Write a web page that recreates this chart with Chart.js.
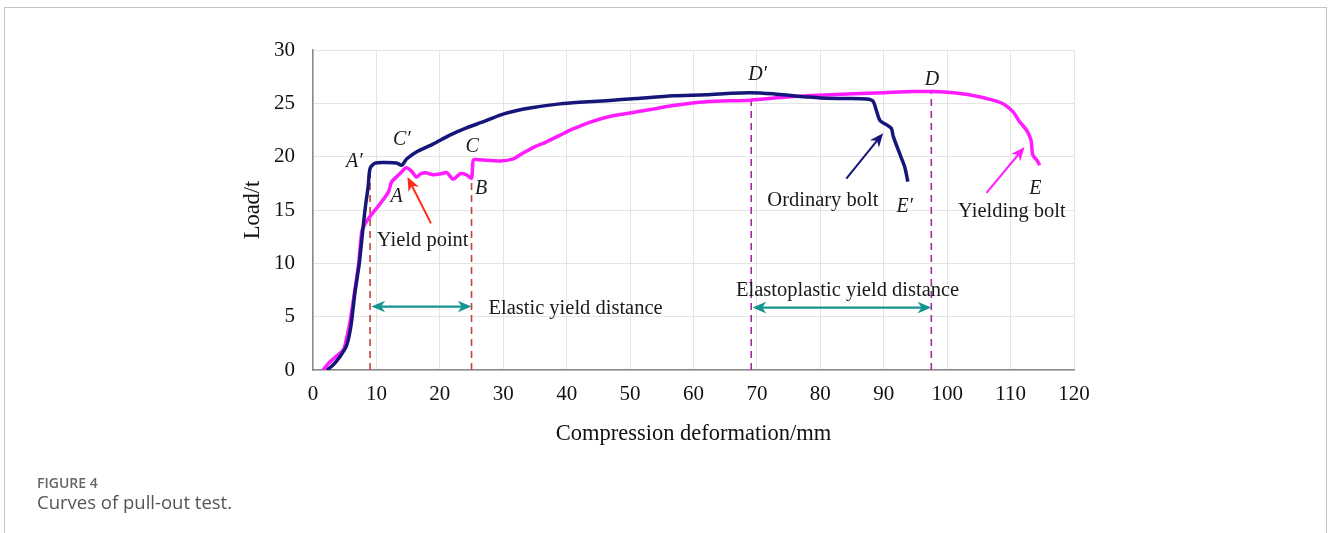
<!DOCTYPE html>
<html>
<head>
<meta charset="utf-8">
<script src="https://cdn.jsdelivr.net/npm/chart.js@4.4.1/dist/chart.umd.min.js"></script>
<style>
  html, body { margin: 0; padding: 0; background: #fff; }
  body { width: 1328px; height: 533px; position: relative; overflow: hidden; }
  #frame { position: absolute; left: 4px; top: 7px; width: 1321px; height: 560px;
           border: 1px solid #c4c4c4; border-bottom: none; }
  #chart { position: absolute; left: 0; top: 0; }
  .cap1 { position: absolute; left: 37px; top: 473px; font-family: "Open Sans", sans-serif;
          font-size: 14px; font-weight: 600; color: #666; }
  .cap2 { position: absolute; left: 37px; top: 489px; font-family: "Open Sans", sans-serif;
          font-size: 18.5px; color: #555; }
</style>
</head>
<body>
<div id="frame"></div>
<canvas id="chart" width="1328" height="533"></canvas>
<div class="cap1">FIGURE 4</div>
<div class="cap2">Curves of pull-out test.</div>
<script>
  // curva do parafuso comum (ordinary bolt)
  const ordinaryX = [2.2, 3.2, 4.3, 5.3, 6.0, 6.6, 7.3, 7.9, 8.3, 8.7, 9.0, 9.8, 11.5, 13.2, 14.0, 14.8, 16.5, 19.0, 21.5, 24.2, 27.0, 29.5, 32.0, 34.7, 38.9, 42.0, 46.3, 51.0, 56.8, 62.0, 66.0, 68.9, 72.5, 75.0, 77.8, 80.0, 84.0, 87.3, 88.3, 88.8, 89.4, 90.4, 91.2, 91.5, 92.5, 93.3, 93.8];
  const ordinaryY = [0, 0.5, 1.3, 2.3, 4.2, 7.2, 10.0, 13.4, 15.5, 17.2, 18.9, 19.4, 19.45, 19.4, 19.2, 19.8, 20.5, 21.2, 22.0, 22.7, 23.3, 23.9, 24.3, 24.6, 24.95, 25.1, 25.25, 25.45, 25.7, 25.8, 25.95, 26.0, 25.9, 25.75, 25.6, 25.5, 25.45, 25.4, 25.2, 24.4, 23.4, 23.0, 22.65, 21.9, 20.3, 19.05, 17.65];

  // curva do parafuso com cedência (yielding bolt)
  const yieldingX = [1.6, 2.4, 3.5, 4.8, 5.3, 5.8, 6.6, 7.2, 7.7, 8.3, 9.0, 10.6, 11.9, 12.4, 13.7, 14.7, 15.6, 16.3, 17.0, 17.7, 19.0, 20.2, 21.1, 22.1, 23.2, 24.2, 25.0, 25.3, 26.3, 29.5, 31.6, 33.0, 34.7, 36.5, 38.9, 41.0, 43.5, 46.3, 49.0, 51.5, 54.0, 56.8, 62.0, 68.9, 74.7, 77.8, 85.2, 90.0, 94.6, 97.8, 101.0, 103.5, 107.2, 109.0, 110.4, 111.4, 112.5, 113.2, 113.5, 114.1, 114.6];
  const yieldingY = [0, 0.6, 1.2, 1.9, 3.0, 4.4, 7.5, 10.0, 13.0, 13.8, 14.4, 15.6, 16.7, 17.65, 18.4, 18.96, 18.6, 18.1, 18.4, 18.5, 18.3, 18.4, 18.5, 17.9, 18.4, 18.3, 18.0, 19.7, 19.7, 19.6, 19.8, 20.3, 20.85, 21.3, 22.0, 22.6, 23.2, 23.7, 24.0, 24.25, 24.5, 24.8, 25.15, 25.3, 25.6, 25.7, 25.9, 26.0, 26.1, 26.1, 26.0, 25.8, 25.3, 24.9, 24.2, 23.3, 22.5, 21.6, 20.15, 19.7, 19.2];

  // linhas verticais tracejadas: [x, yTopo]
  const redGuides = [[9.0, 18.9], [25.0, 18.0]];
  const purpleGuides = [[69.1, 26.0], [97.5, 26.1]];

  // setas: [x1, y1, x2, y2]
  const distanceArrows = [[9.2, 5.95, 25.0, 5.95], [69.3, 5.85, 97.5, 5.85]];
  const yieldArrow = [18.6, 13.75, 14.9, 18.1];
  const ordinaryArrow = [84.1, 17.95, 89.9, 22.2];
  const yieldingArrow = [106.2, 16.6, 112.2, 20.9];

  // rótulos das letras (itálico) e textos
  const pointLabels = ['A\u2032', 'C\u2032', 'A', 'C', 'B', 'D\u2032', 'D', 'E\u2032', 'E'];
  const pointLabelX = [6.5, 14.0, 13.2, 25.1, 26.5, 70.1, 97.6, 93.3, 113.9];
  const pointLabelY = [19.5, 21.55, 16.2, 20.9, 17.0, 27.65, 27.2, 15.3, 17.0];
  const textLabels = ['Yield point', 'Ordinary bolt', 'Yielding bolt', 'Elastic yield distance', 'Elastoplastic yield distance'];
  const textLabelX = [17.3, 80.4, 110.2, 41.4, 84.3];
  const textLabelY = [12.1, 15.85, 14.85, 5.8, 7.45];

  const xTicks = [0, 10, 20, 30, 40, 50, 60, 70, 80, 90, 100, 110, 120];
  const yTicks = [0, 5, 10, 15, 20, 25, 30];

  const NAVY = '#16167a';
  const MAGENTA = '#ff1cff';
  const TEAL = '#15958f';
  const SERIF = '"Liberation Serif", "Times New Roman", serif';

  function toPoints(xs, ys) {
    return xs.map((x, i) => ({ x: x, y: ys[i] }));
  }

  function guideDataset(g, color) {
    return {
      data: [{ x: g[0], y: 0 }, { x: g[0], y: g[1] }],
      borderColor: color, borderWidth: 1.6, borderDash: [7, 5],
      pointRadius: 0, showLine: true, order: 5
    };
  }

  // desenha uma seta usando as escalas do gráfico
  function drawArrow(chart, a, color, both, width, head) {
    const ctx = chart.ctx;
    const xs = chart.scales.x, ys = chart.scales.y;
    const x1 = xs.getPixelForValue(a[0]), y1 = ys.getPixelForValue(a[1]);
    const x2 = xs.getPixelForValue(a[2]), y2 = ys.getPixelForValue(a[3]);
    const ang = Math.atan2(y2 - y1, x2 - x1);
    ctx.save();
    ctx.strokeStyle = color;
    ctx.fillStyle = color;
    ctx.lineWidth = width;
    ctx.beginPath();
    ctx.moveTo(x1 + (both ? Math.cos(ang) * head * 0.6 : 0), y1 + (both ? Math.sin(ang) * head * 0.6 : 0));
    ctx.lineTo(x2 - Math.cos(ang) * head * 0.6, y2 - Math.sin(ang) * head * 0.6);
    ctx.stroke();
    const tip = (tx, ty, an) => {
      ctx.beginPath();
      ctx.moveTo(tx, ty);
      ctx.lineTo(tx - head * Math.cos(an - 0.4), ty - head * Math.sin(an - 0.4));
      ctx.lineTo(tx - head * 0.65 * Math.cos(an), ty - head * 0.65 * Math.sin(an));
      ctx.lineTo(tx - head * Math.cos(an + 0.4), ty - head * Math.sin(an + 0.4));
      ctx.closePath();
      ctx.fill();
    };
    tip(x2, y2, ang);
    if (both) tip(x1, y1, ang + Math.PI);
    ctx.restore();
  }

  const annotations = {
    id: 'annotations',
    afterDatasetsDraw(chart) {
      const ctx = chart.ctx;
      const xs = chart.scales.x, ys = chart.scales.y;
      distanceArrows.forEach(a => drawArrow(chart, a, TEAL, true, 2.2, 15));
      drawArrow(chart, yieldArrow, '#ff2a1a', false, 2, 15);
      drawArrow(chart, ordinaryArrow, NAVY, false, 2, 15);
      drawArrow(chart, yieldingArrow, MAGENTA, false, 2, 15);

      ctx.save();
      ctx.textAlign = 'center';
      ctx.textBaseline = 'middle';
      ctx.fillStyle = '#1a1a1a';
      ctx.font = 'italic 20px ' + SERIF;
      pointLabels.forEach((t, i) => {
        ctx.fillText(t, xs.getPixelForValue(pointLabelX[i]), ys.getPixelForValue(pointLabelY[i]));
      });
      ctx.font = '20.5px ' + SERIF;
      textLabels.forEach((t, i) => {
        ctx.fillText(t, xs.getPixelForValue(textLabelX[i]), ys.getPixelForValue(textLabelY[i]));
      });
      ctx.restore();
    }
  };

  const datasets = [
    {
      label: 'Ordinary bolt',
      data: toPoints(ordinaryX, ordinaryY),
      borderColor: NAVY, borderWidth: 3.5, pointRadius: 0,
      showLine: true, tension: 0.25, order: 1
    },
    {
      label: 'Yielding bolt',
      data: toPoints(yieldingX, yieldingY),
      borderColor: MAGENTA, borderWidth: 3.5, pointRadius: 0,
      showLine: true, tension: 0.25, order: 2
    }
  ];
  redGuides.forEach(g => datasets.push(guideDataset(g, '#c8403a')));
  purpleGuides.forEach(g => datasets.push(guideDataset(g, '#a0309c')));

  const config = {
    type: 'scatter',
    data: { datasets: datasets },
    options: {
      responsive: false,
      animation: false,
      layout: { padding: { left: 240, right: 254, top: 50, bottom: 85 } },
      plugins: { legend: { display: false }, tooltip: { enabled: false } },
      scales: {
        x: {
          type: 'linear', min: 0, max: 120,
          afterFit: (s) => { s.height = 78; },
          afterBuildTicks: (s) => { s.ticks = xTicks.map(v => ({ value: v })); },
          grid: { color: '#e4e4e4', drawTicks: false },
          border: { color: '#8a8a8a', width: 1.5 },
          ticks: { padding: 12, color: '#111', font: { family: SERIF, size: 21 } },
          title: { display: true, text: 'Compression deformation/mm', color: '#111',
                   padding: 0, font: { family: SERIF, size: 22.5 } }
        },
        y: {
          type: 'linear', min: 0, max: 30,
          afterFit: (s) => { s.width = 73; },
          afterBuildTicks: (s) => { s.ticks = yTicks.map(v => ({ value: v })); },
          grid: { color: '#e4e4e4', drawTicks: false },
          border: { color: '#8a8a8a', width: 1.5 },
          ticks: { padding: 18, color: '#111', font: { family: SERIF, size: 21 } },
          title: { display: true, text: 'Load/t', color: '#111',
                   padding: 0, font: { family: SERIF, size: 22.5 } }
        }
      }
    },
    plugins: [annotations]
  };

  new Chart(document.getElementById('chart').getContext('2d'), config);
</script>
</body>
</html>
